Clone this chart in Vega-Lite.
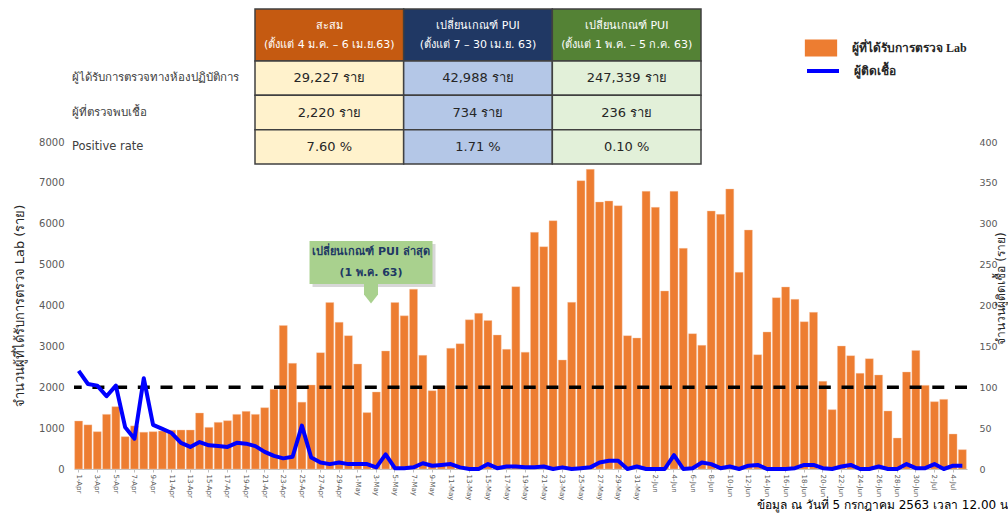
{
  "$schema": "https://vega.github.io/schema/vega-lite/v6.json",
  "width": 893,
  "height": 327,
  "autosize": {"type": "none"},
  "padding": {"left": 74, "top": 142, "right": 41, "bottom": 46},
  "background": "white",
  "title": {
    "text": "ข้อมูล ณ วันที่ 5 กรกฎาคม 2563 เวลา 12.00 น",
    "orient": "bottom",
    "anchor": "end",
    "frame": "group",
    "dx": 41,
    "offset": 0,
    "fontSize": 12,
    "fontWeight": "normal",
    "color": "#000000"
  },
  "datasets": {
    "daily": [
      {"date": "1-Apr", "lab": 1175, "cases": 120},
      {"date": "2-Apr", "lab": 1080, "cases": 104},
      {"date": "3-Apr", "lab": 913, "cases": 102},
      {"date": "4-Apr", "lab": 1337, "cases": 89},
      {"date": "5-Apr", "lab": 1525, "cases": 102},
      {"date": "6-Apr", "lab": 791, "cases": 51},
      {"date": "7-Apr", "lab": 1055, "cases": 37},
      {"date": "8-Apr", "lab": 900, "cases": 111},
      {"date": "9-Apr", "lab": 913, "cases": 54},
      {"date": "10-Apr", "lab": 930, "cases": 49},
      {"date": "11-Apr", "lab": 950, "cases": 44},
      {"date": "12-Apr", "lab": 954, "cases": 32},
      {"date": "13-Apr", "lab": 954, "cases": 27},
      {"date": "14-Apr", "lab": 1370, "cases": 33},
      {"date": "15-Apr", "lab": 1019, "cases": 29},
      {"date": "16-Apr", "lab": 1142, "cases": 28},
      {"date": "17-Apr", "lab": 1182, "cases": 27},
      {"date": "18-Apr", "lab": 1337, "cases": 32},
      {"date": "19-Apr", "lab": 1411, "cases": 31},
      {"date": "20-Apr", "lab": 1337, "cases": 28},
      {"date": "21-Apr", "lab": 1500, "cases": 21},
      {"date": "22-Apr", "lab": 1950, "cases": 16},
      {"date": "23-Apr", "lab": 3510, "cases": 13},
      {"date": "24-Apr", "lab": 2585, "cases": 15},
      {"date": "25-Apr", "lab": 1635, "cases": 53},
      {"date": "26-Apr", "lab": 2055, "cases": 14},
      {"date": "27-Apr", "lab": 2846, "cases": 8},
      {"date": "28-Apr", "lab": 4072, "cases": 6},
      {"date": "29-Apr", "lab": 3588, "cases": 8},
      {"date": "30-Apr", "lab": 3262, "cases": 6},
      {"date": "1-May", "lab": 2569, "cases": 6},
      {"date": "2-May", "lab": 1380, "cases": 6},
      {"date": "3-May", "lab": 1884, "cases": 2},
      {"date": "4-May", "lab": 2887, "cases": 18},
      {"date": "5-May", "lab": 4072, "cases": 1},
      {"date": "6-May", "lab": 3747, "cases": 1},
      {"date": "7-May", "lab": 4400, "cases": 2},
      {"date": "8-May", "lab": 2781, "cases": 7},
      {"date": "9-May", "lab": 1916, "cases": 4},
      {"date": "10-May", "lab": 2031, "cases": 5},
      {"date": "11-May", "lab": 2952, "cases": 6},
      {"date": "12-May", "lab": 3066, "cases": 2},
      {"date": "13-May", "lab": 3650, "cases": 0},
      {"date": "14-May", "lab": 3808, "cases": 0},
      {"date": "15-May", "lab": 3633, "cases": 6},
      {"date": "16-May", "lab": 3278, "cases": 1},
      {"date": "17-May", "lab": 2928, "cases": 3},
      {"date": "18-May", "lab": 4461, "cases": 3},
      {"date": "19-May", "lab": 2858, "cases": 2},
      {"date": "20-May", "lab": 5790, "cases": 2},
      {"date": "21-May", "lab": 5439, "cases": 3},
      {"date": "22-May", "lab": 6075, "cases": 0},
      {"date": "23-May", "lab": 2667, "cases": 2},
      {"date": "24-May", "lab": 4077, "cases": 0},
      {"date": "25-May", "lab": 7054, "cases": 1},
      {"date": "26-May", "lab": 7331, "cases": 2},
      {"date": "27-May", "lab": 6532, "cases": 8},
      {"date": "28-May", "lab": 6557, "cases": 10},
      {"date": "29-May", "lab": 6442, "cases": 10},
      {"date": "30-May", "lab": 3262, "cases": 0},
      {"date": "31-May", "lab": 3205, "cases": 3},
      {"date": "1-Jun", "lab": 6793, "cases": 0},
      {"date": "2-Jun", "lab": 6402, "cases": 0},
      {"date": "3-Jun", "lab": 4355, "cases": 0},
      {"date": "4-Jun", "lab": 6793, "cases": 17},
      {"date": "5-Jun", "lab": 5399, "cases": 0},
      {"date": "6-Jun", "lab": 3311, "cases": 1},
      {"date": "7-Jun", "lab": 3025, "cases": 8},
      {"date": "8-Jun", "lab": 6312, "cases": 6},
      {"date": "9-Jun", "lab": 6230, "cases": 1},
      {"date": "10-Jun", "lab": 6850, "cases": 3},
      {"date": "11-Jun", "lab": 4811, "cases": 0},
      {"date": "12-Jun", "lab": 5847, "cases": 4},
      {"date": "13-Jun", "lab": 2797, "cases": 5},
      {"date": "14-Jun", "lab": 3352, "cases": 0},
      {"date": "15-Jun", "lab": 4192, "cases": 0},
      {"date": "16-Jun", "lab": 4453, "cases": 0},
      {"date": "17-Jun", "lab": 4151, "cases": 1},
      {"date": "18-Jun", "lab": 3604, "cases": 5},
      {"date": "19-Jun", "lab": 3833, "cases": 5},
      {"date": "20-Jun", "lab": 2145, "cases": 1},
      {"date": "21-Jun", "lab": 1452, "cases": 0},
      {"date": "22-Jun", "lab": 3009, "cases": 3},
      {"date": "23-Jun", "lab": 2773, "cases": 5},
      {"date": "24-Jun", "lab": 2340, "cases": 0},
      {"date": "25-Jun", "lab": 2700, "cases": 0},
      {"date": "26-Jun", "lab": 2300, "cases": 3},
      {"date": "27-Jun", "lab": 1419, "cases": 0},
      {"date": "28-Jun", "lab": 758, "cases": 0},
      {"date": "29-Jun", "lab": 2373, "cases": 6},
      {"date": "30-Jun", "lab": 2900, "cases": 1},
      {"date": "1-Jul", "lab": 2047, "cases": 1},
      {"date": "2-Jul", "lab": 1647, "cases": 6},
      {"date": "3-Jul", "lab": 1704, "cases": 0},
      {"date": "4-Jul", "lab": 856, "cases": 4},
      {"date": "5-Jul", "lab": 473, "cases": 4}
    ],
    "header": [
      {"col": "a", "row": "h", "text": "สะสม\n(ตั้งแต่ 4 ม.ค. – 6 เม.ย.63)"},
      {"col": "b", "row": "h", "text": "เปลี่ยนเกณฑ์ PUI\n(ตั้งแต่ 7 – 30 เม.ย. 63)"},
      {"col": "c", "row": "h", "text": "เปลี่ยนเกณฑ์ PUI\n(ตั้งแต่ 1 พ.ค. – 5 ก.ค. 63)"}
    ],
    "body": [
      {"col": "a", "row": "r1", "text": "29,227 ราย"},
      {"col": "b", "row": "r1", "text": "42,988 ราย"},
      {"col": "c", "row": "r1", "text": "247,339 ราย"},
      {"col": "a", "row": "r2", "text": "2,220 ราย"},
      {"col": "b", "row": "r2", "text": "734 ราย"},
      {"col": "c", "row": "r2", "text": "236 ราย"},
      {"col": "a", "row": "r3", "text": "7.60 %"},
      {"col": "b", "row": "r3", "text": "1.71 %"},
      {"col": "c", "row": "r3", "text": "0.10 %"}
    ],
    "rowlabels": [
      {"col": "label", "row": "r1", "text": "ผู้ได้รับการตรวจทางห้องปฏิบัติการ"},
      {"col": "label", "row": "r2", "text": "ผู้ที่ตรวจพบเชื้อ"},
      {"col": "label", "row": "r3", "text": "Positive rate"}
    ],
    "threshold": [{"lab": 2000}],
    "callout": [{"date": "2-May", "lab": 5050, "text": "เปลี่ยนเกณฑ์ PUI ล่าสุด\n(1 พ.ค. 63)"}]
  },
  "layer": [
    {
      "resolve": {"scale": {"y": "independent"}},
      "layer": [
        {
          "data": {"name": "daily"},
          "mark": {"type": "bar", "stroke": "#F8CBAD", "strokeWidth": 0.4},
          "encoding": {
            "x": {
              "field": "date", "type": "ordinal", "sort": null,
              "scale": {
                "domain": ["1-Apr","2-Apr","3-Apr","4-Apr","5-Apr","6-Apr","7-Apr","8-Apr","9-Apr","10-Apr","11-Apr","12-Apr","13-Apr","14-Apr","15-Apr","16-Apr","17-Apr","18-Apr","19-Apr","20-Apr","21-Apr","22-Apr","23-Apr","24-Apr","25-Apr","26-Apr","27-Apr","28-Apr","29-Apr","30-Apr","1-May","2-May","3-May","4-May","5-May","6-May","7-May","8-May","9-May","10-May","11-May","12-May","13-May","14-May","15-May","16-May","17-May","18-May","19-May","20-May","21-May","22-May","23-May","24-May","25-May","26-May","27-May","28-May","29-May","30-May","31-May","1-Jun","2-Jun","3-Jun","4-Jun","5-Jun","6-Jun","7-Jun","8-Jun","9-Jun","10-Jun","11-Jun","12-Jun","13-Jun","14-Jun","15-Jun","16-Jun","17-Jun","18-Jun","19-Jun","20-Jun","21-Jun","22-Jun","23-Jun","24-Jun","25-Jun","26-Jun","27-Jun","28-Jun","29-Jun","30-Jun","1-Jul","2-Jul","3-Jul","4-Jul","5-Jul"],
                "paddingInner": 0.14, "paddingOuter": 0.07
              },
              "axis": {
                "title": null,
                "values": ["1-Apr","3-Apr","5-Apr","7-Apr","9-Apr","11-Apr","13-Apr","15-Apr","17-Apr","19-Apr","21-Apr","23-Apr","25-Apr","27-Apr","29-Apr","1-May","3-May","5-May","7-May","9-May","11-May","13-May","15-May","17-May","19-May","21-May","23-May","25-May","27-May","29-May","31-May","2-Jun","4-Jun","6-Jun","8-Jun","10-Jun","12-Jun","14-Jun","16-Jun","18-Jun","20-Jun","22-Jun","24-Jun","26-Jun","28-Jun","30-Jun","2-Jul","4-Jul"],
                "labelAngle": 90,
                "labelFontSize": 7,
                "labelColor": "#595959",
                "labelPadding": 2,
                "labelOverlap": false,
                "tickColor": "#BFBFBF",
                "tickSize": 3,
                "domainColor": "#BFBFBF",
                "domainWidth": 1
              }
            },
            "y": {
              "field": "lab", "type": "quantitative",
              "scale": {"domain": [0, 8000], "nice": false},
              "axis": {
                "title": "จำนวนผู้ที่ได้รับการตรวจ Lab (ราย)",
                "values": [0, 1000, 2000, 3000, 4000, 5000, 6000, 7000, 8000],
                "format": "d",
                "grid": false, "ticks": false, "domain": false,
                "labelPadding": 10, "labelFontSize": 10, "labelColor": "#595959",
                "titleFontSize": 13, "titleFontWeight": "normal", "titleColor": "#262626",
                "titlePadding": 12
              }
            },
            "fill": {
              "datum": "ผู้ที่ได้รับการตรวจ Lab",
              "scale": {"range": ["#ED7D31"]},
              "legend": {
                "orient": "none", "legendX": 738.5, "legendY": -102.5,
                "title": null, "padding": 0,
                "symbolType": "M-1.9,-1H1.9V1H-1.9Z", "symbolSize": 289,
                "symbolStrokeWidth": 0,
                "labelOffset": 22.5, "labelFontSize": 12, "labelFont": "Liberation Serif",
                "labelFontWeight": "bold", "labelColor": "#262626",
                "encode": {"symbols": {"update": {"fill": {"value": "#FF8000"}, "strokeWidth": {"value": 0}}}}
              }
            }
          }
        },
        {
          "data": {"name": "threshold"},
          "mark": {"type": "rule", "color": "#000000", "strokeWidth": 3.5, "strokeDash": [12, 10.7]},
          "encoding": {
            "y": {"field": "lab", "type": "quantitative", "scale": {"domain": [0, 8000], "nice": false}, "axis": null}
          }
        },
        {
          "data": {"name": "daily"},
          "mark": {"type": "line", "color": "#0000FF", "strokeWidth": 4, "strokeJoin": "round"},
          "encoding": {
            "x": {"field": "date", "type": "ordinal", "sort": null, "bandPosition": 0.5},
            "y": {
              "field": "cases", "type": "quantitative",
              "scale": {"domain": [0, 400], "nice": false},
              "axis": {
                "orient": "right",
                "title": "จำนวนผู้ติดเชื้อ (ราย)",
                "values": [0, 50, 100, 150, 200, 250, 300, 350, 400],
                "grid": false, "ticks": false, "domain": false,
                "labelPadding": 12, "labelFontSize": 9.5, "labelColor": "#595959",
                "titleFontSize": 12, "titleFontWeight": "normal", "titleColor": "#262626",
                "titleAngle": -90, "titleBaseline": "middle", "titlePadding": 3, "titleY": 146
              }
            },
            "stroke": {
              "datum": "ผู้ติดเชื้อ",
              "scale": {"range": ["#0000FF"]},
              "legend": {
                "orient": "none", "legendX": 731, "legendY": -89,
                "title": null, "padding": 0,
                "symbolType": "stroke", "symbolSize": 1024, "symbolStrokeWidth": 4,
                "labelOffset": 13, "labelFontSize": 12, "labelFont": "Liberation Serif",
                "labelFontWeight": "bold", "labelColor": "#262626"
              }
            }
          }
        },
        {
          "data": {"name": "callout"},
          "mark": {"type": "point", "shape": "M-1.43,-0.5H1.43V0.5H-1.43Z", "size": 7396, "filled": true, "fill": "#A6A6A6", "opacity": 0.45, "strokeWidth": 0, "xOffset": 3, "yOffset": 3},
          "encoding": {
            "x": {"field": "date", "type": "ordinal", "bandPosition": 1},
            "y": {"field": "lab", "type": "quantitative", "scale": {"domain": [0, 8000], "nice": false}, "axis": null}
          }
        },
        {
          "data": {"name": "callout"},
          "mark": {"type": "point", "shape": "M-0.7,-1.1H0.7V0.1L0,1L-0.7,0.1Z", "size": 400, "filled": true, "fill": "#A9D18E", "opacity": 1, "strokeWidth": 0, "yOffset": 31},
          "encoding": {
            "x": {"field": "date", "type": "ordinal", "bandPosition": 1},
            "y": {"field": "lab", "type": "quantitative", "scale": {"domain": [0, 8000], "nice": false}, "axis": null}
          }
        },
        {
          "data": {"name": "callout"},
          "mark": {"type": "point", "shape": "M-1.43,-0.5H1.43V0.5H-1.43Z", "size": 7396, "filled": true, "fill": "#A9D18E", "opacity": 1, "strokeWidth": 0},
          "encoding": {
            "x": {"field": "date", "type": "ordinal", "bandPosition": 1},
            "y": {"field": "lab", "type": "quantitative", "scale": {"domain": [0, 8000], "nice": false}, "axis": null}
          }
        },
        {
          "data": {"name": "callout"},
          "mark": {"type": "text", "lineBreak": "\n", "lineHeight": 21, "fontSize": 11, "fontWeight": "bold", "color": "#203864", "align": "center", "baseline": "middle", "dy": -10.5},
          "encoding": {
            "x": {"field": "date", "type": "ordinal", "bandPosition": 1},
            "y": {"field": "lab", "type": "quantitative", "scale": {"domain": [0, 8000], "nice": false}, "axis": null},
            "text": {"field": "text"}
          }
        }
      ]
    },
    {
      "data": {"name": "header"},
      "encoding": {
        "x": {"field": "col", "type": "nominal", "scale": {"domain": ["a", "b", "c"], "range": [181, 627], "paddingInner": 0, "paddingOuter": 0}, "axis": null},
        "y": {"field": "row", "type": "nominal", "scale": {"domain": ["h"], "range": [-133, -81], "paddingInner": 0, "paddingOuter": 0}, "axis": null}
      },
      "layer": [
        {
          "mark": {"type": "rect", "stroke": "#404040", "strokeWidth": 1.5},
          "encoding": {
            "fill": {"field": "col", "type": "nominal", "scale": {"domain": ["a", "b", "c"], "range": ["#C55A11", "#203864", "#548235"]}, "legend": null}
          }
        },
        {
          "mark": {"type": "text", "lineBreak": "\n", "lineHeight": 19, "fontSize": 11, "color": "#FFFFFF", "align": "center", "baseline": "middle", "dy": -9},
          "encoding": {"text": {"field": "text"}}
        }
      ]
    },
    {
      "data": {"name": "body"},
      "encoding": {
        "x": {"field": "col", "type": "nominal", "scale": {"domain": ["a", "b", "c"], "range": [181, 627], "paddingInner": 0, "paddingOuter": 0}, "axis": null},
        "y": {"field": "row", "type": "nominal", "scale": {"domain": ["r1", "r2", "r3"], "range": [-81, 22], "paddingInner": 0, "paddingOuter": 0}, "axis": null}
      },
      "layer": [
        {
          "mark": {"type": "rect", "stroke": "#404040", "strokeWidth": 1.5},
          "encoding": {
            "fill": {"field": "col", "type": "nominal", "scale": {"domain": ["a", "b", "c"], "range": ["#FFF2CC", "#B4C7E7", "#E2F0D9"]}, "legend": null}
          }
        },
        {
          "mark": {"type": "text", "fontSize": 13, "color": "#262626", "align": "center", "baseline": "middle"},
          "encoding": {"text": {"field": "text"}}
        }
      ]
    },
    {
      "data": {"name": "rowlabels"},
      "mark": {"type": "text", "fontSize": 11.5, "color": "#404040", "align": "left", "baseline": "middle"},
      "encoding": {
        "x": {"field": "col", "type": "nominal", "scale": {"domain": ["label"], "range": [-4, 0], "paddingInner": 0, "paddingOuter": 0}, "axis": null},
        "y": {"field": "row", "type": "nominal", "scale": {"domain": ["r1", "r2", "r3"], "range": [-81, 22], "paddingInner": 0, "paddingOuter": 0}, "axis": null},
        "text": {"field": "text"}
      }
    }
  ],
  "resolve": {"scale": {"x": "independent", "y": "independent", "fill": "independent"}},
  "config": {
    "font": "Tahoma, DejaVu Sans, sans-serif",
    "view": {"stroke": null},
    "axis": {"labelFont": "Tahoma, DejaVu Sans, sans-serif", "titleFont": "Tahoma, DejaVu Sans, sans-serif"},
    "legend": {"labelFont": "Liberation Serif"}
  }
}
